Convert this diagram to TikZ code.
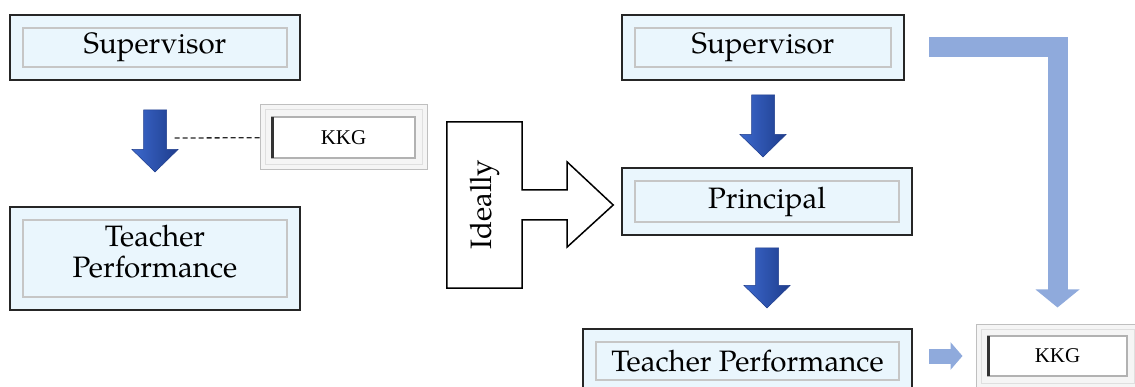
\documentclass[tikz,border=0pt]{standalone}
\usepackage{fontspec}
\setmainfont{TeX Gyre Pagella}
\newfontfamily\kkgfont{Liberation Serif}
\usetikzlibrary{calc,arrows.meta}
\newcommand{\rolefont}{\fontsize{29.5}{31}\selectfont}
\newcommand{\kfont}{\kkgfont\fontsize{21}{24}\selectfont}
\definecolor{boxblue}{RGB}{234,246,253}
\definecolor{barblue}{RGB}{143,170,220}
\definecolor{arrowlight}{RGB}{110,150,230}
\definecolor{arrowmid}{RGB}{60,105,205}
\definecolor{arrowdark}{RGB}{30,60,140}
\tikzset{
  rolebox/.style={draw=black!85, line width=2pt, fill=boxblue, inner sep=0pt, font=\rolefont,
    path picture={\draw[gray!45, line width=1.5pt] ([shift={(13,13)}]path picture bounding box.north west) rectangle ([shift={(-13,-13)}]path picture bounding box.south east);}},
  kkgbox/.style={draw=gray!50, line width=1pt, fill=gray!8, inner sep=0pt, font=\kfont,
    path picture={
      \coordinate (nw) at ([shift={(12,12)}]path picture bounding box.north west);
      \coordinate (se) at ([shift={(-12,-12)}]path picture bounding box.south east);
      \draw[gray!25, line width=1pt] ([shift={(5,5)}]path picture bounding box.north west) rectangle ([shift={(-5,-5)}]path picture bounding box.south east);
      \draw[gray!60, line width=1.5pt, fill=white] (nw) rectangle (se);
      \draw[black!80, line width=3pt] (nw) -- (nw |- se);}},
  downarrow/.style 2 args={shade, left color=arrowmid, middle color=arrowlight, right color=arrowdark, draw=arrowdark, line width=0.5pt,
    to path={let \p1=(\tikztostart.south), \p2=(\tikztotarget.north) in
      (\x1-11.5pt,\y1-#1) -- (\x1+11.5pt,\y1-#1) -- (\x1+11.5pt,\y2+#2+22.5pt) -- (\x1+23pt,\y2+#2+22.5pt)
      -- (\x1,\y2+#2) -- (\x1-23pt,\y2+#2+22.5pt) -- (\x1-11.5pt,\y2+#2+22.5pt) -- cycle}},
  bararrow/.style={draw=barblue, line join=miter}
}

\begin{document}
\begin{tikzpicture}[x=1pt,y=-1pt,node distance=0pt]
      \useasboundingbox (0,0) rectangle (1135,387);
      \node[rolebox,minimum width=290pt,minimum height=65pt] (1) at (155,47.5) {Supervisor};
      \node[kkgbox,right of=1,xshift=188.5pt,yshift=-90pt,minimum width=167pt,minimum height=65pt] (2) {KKG};
      \node[rolebox,below of=1,yshift=-211pt,minimum width=290pt,minimum height=103pt,align=center,text depth=14pt] (3) {Teacher\\Performance};
      \node[minimum width=75pt,minimum height=166pt,inner sep=0pt,font=\rolefont] (4) at (484.5,205) {\rotatebox{90}{Ideally}};
      \node[rolebox,right of=1,xshift=608pt,minimum width=282pt,minimum height=65pt] (5) {Supervisor};
      \node[rolebox,below of=5,xshift=4pt,yshift=-154pt,minimum width=290pt,minimum height=67pt] (6) {Principal};
      \node[rolebox,below of=6,xshift=-19.5pt,yshift=-159.5pt,minimum width=329pt,minimum height=64pt] (7) {Teacher Performance};
      \node[kkgbox,right of=7,xshift=310pt,yshift=5pt,minimum width=163pt,minimum height=64pt] (8) {KKG};
      \coordinate (d) at (172,138);

      \draw[downarrow={29pt}{34pt}] (1) to (3);
      \draw[black!85, line width=1.3pt, dash pattern=on 5pt off 3pt] (2) -- (d);
      \draw[line width=1.5pt, line join=miter] (4.north west) -- (4.north east) -- ([yshift=15pt]4.east) -- ++(45,0) -- ++(0,-28)
        -- ++(46,43) -- ++(-46,42) -- ++(0,-27) -- ++(-45,0) -- (4.south east) -- (4.south west) -- cycle;
      \draw[downarrow={14pt}{10pt}] (5) to (6);
      \draw[downarrow={12pt}{20pt}] (6) to (7);
      \draw[bararrow, line width=20pt, -{Triangle[width=43pt,length=18pt]}, shorten <=24pt, shorten >=16pt] (5.east) -| (8.north);
      \draw[bararrow, line width=15pt, -{Triangle[width=27pt,length=12pt]}, shorten <=16pt, shorten >=13pt] (7.east |- 8.west) -- (8.west);
    \end{tikzpicture}
\end{document}
